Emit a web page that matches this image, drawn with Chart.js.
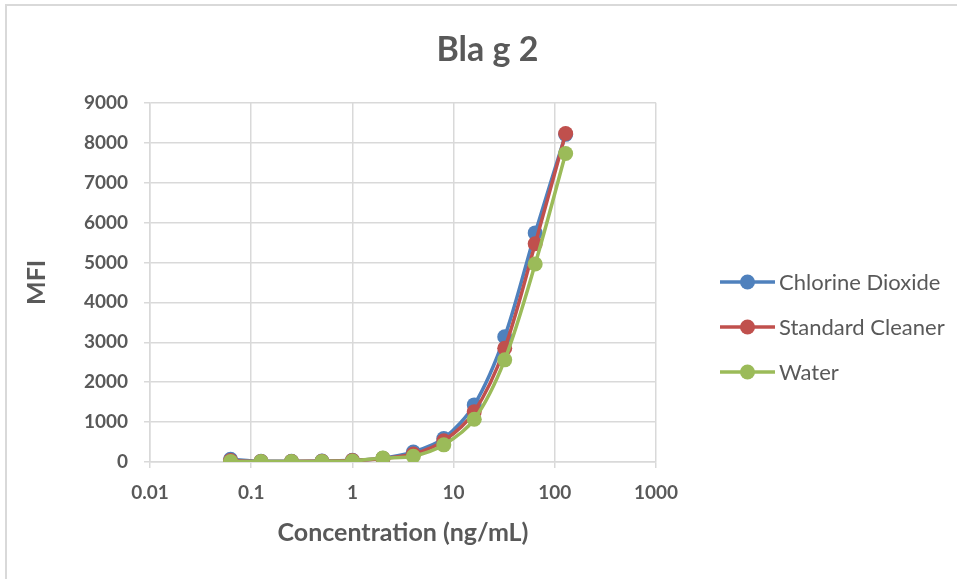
<!DOCTYPE html>
<html>
<head>
<meta charset="utf-8">
<script src="https://cdn.jsdelivr.net/npm/chart.js@4/dist/chart.umd.min.js"></script>
<style>
  body { margin: 0; background: #fff; overflow: hidden; }
  #wrap { position: relative; width: 957px; height: 579px; }
  #frame { position: absolute; left: 5px; top: 4px; width: 1000px; height: 1000px;
           border-left: 2px solid #d9d9d9; border-top: 2px solid #d9d9d9; }
  #chart { position: absolute; left: 0; top: 0; }
  #legend { position: absolute; left: 719px; top: 259px; font-family: Lato, sans-serif;
            font-size: 22px; color: #595959; }
  .item { height: 45px; display: flex; align-items: center; }
  .item canvas { margin-right: 3px; }
</style>
</head>
<body>
<div id="wrap">
  <div id="frame"></div>
  <canvas id="chart" width="957" height="579"></canvas>
  <div id="legend"></div>
</div>
<script>
const concentrations = [0.0625, 0.125, 0.25, 0.5, 1, 2, 4, 8, 16, 32, 64, 128];
const chlorineDioxide = [70, 20, 20, 25, 45, 95, 250, 590, 1430, 3140, 5740, 8210];
const standardCleaner = [35, 15, 15, 20, 40, 90, 200, 530, 1260, 2850, 5470, 8230];
const water = [10, 10, 10, 15, 25, 100, 145, 430, 1070, 2560, 4960, 7730];
const seriesNames = ['Chlorine Dioxide', 'Standard Cleaner', 'Water'];
const seriesColors = ['#4F81BD', '#C0504D', '#9BBB59'];
const xTicks = [0.01, 0.1, 1, 10, 100, 1000];

const seriesValues = [chlorineDioxide, standardCleaner, water];
const textColor = '#595959';
const gridColor = '#d9d9d9';

// later series are painted over earlier ones, as in the original
const datasets = seriesValues.map((vals, i) => ({
  label: seriesNames[i],
  data: concentrations.map((c, j) => ({ x: c, y: vals[j] })),
  borderColor: seriesColors[i],
  backgroundColor: seriesColors[i],
  borderWidth: 3.5,
  pointRadius: 7.5,
  pointHoverRadius: 7.5,
  pointBorderWidth: 0,
  tension: 0.3,
  order: seriesValues.length - i
}));

const ctx = document.getElementById('chart').getContext('2d');
const chart = new Chart(ctx, {
  type: 'line',
  data: { datasets: datasets },
  options: {
    responsive: false,
    animation: false,
    layout: { padding: { left: 18, right: 0, top: 0, bottom: 0 } },
    plugins: {
      legend: { display: false },
      tooltip: { enabled: false },
      title: {
        display: true,
        text: 'Bla g 2',
        color: textColor,
        font: { family: 'Lato', size: 34, weight: 'bold' },
        padding: { top: 30, bottom: 32 }
      }
    },
    scales: {
      x: {
        type: 'logarithmic',
        min: 0.01,
        max: 1000,
        afterBuildTicks: scale => { scale.ticks = xTicks.map(v => ({ value: v })); },
        afterFit: scale => { scale.height = 117; },
        ticks: {
          color: textColor,
          font: { family: 'Lato', size: 19, weight: 'bold' },
          maxRotation: 0,
          autoSkip: false,
          padding: 13,
          callback: v => String(v)
        },
        grid: { color: gridColor, lineWidth: 1.5, tickLength: 6 },
        border: { color: gridColor, width: 1.5 },
        title: {
          display: true,
          text: 'Concentration (ng/mL)',
          color: textColor,
          font: { family: 'Lato', size: 25, weight: 'bold' },
          padding: { top: 0, bottom: 31 }
        }
      },
      y: {
        min: 0,
        max: 9000,
        afterFit: scale => { scale.width = 132; },
        ticks: {
          stepSize: 1000,
          color: textColor,
          font: { family: 'Lato', size: 19, weight: 'bold' },
          padding: 16,
          callback: v => String(v)
        },
        grid: { color: gridColor, lineWidth: 1.5, tickLength: 6 },
        border: { color: gridColor, width: 1.5 },
        title: {
          display: true,
          text: 'MFI',
          color: textColor,
          font: { family: 'Lato', size: 25, weight: 'bold' },
          padding: { top: 4, bottom: 0 }
        }
      },
      // empty right-hand box that keeps room for the legend
      spacer: {
        position: 'right',
        afterFit: scale => { scale.width = 301; },
        ticks: { display: false },
        grid: { display: false, drawTicks: false },
        border: { display: false }
      }
    }
  }
});

// legend built from the dataset names and colours
const legend = document.getElementById('legend');
seriesNames.forEach((name, i) => {
  const item = document.createElement('div');
  item.className = 'item';
  const c = document.createElement('canvas');
  c.width = 57; c.height = 20;
  const g = c.getContext('2d');
  g.strokeStyle = seriesColors[i];
  g.lineWidth = 3.5;
  g.beginPath(); g.moveTo(1, 10); g.lineTo(56, 10); g.stroke();
  g.fillStyle = seriesColors[i];
  g.beginPath(); g.arc(28.5, 10, 7.5, 0, Math.PI * 2); g.fill();
  item.appendChild(c);
  const span = document.createElement('span');
  span.textContent = name;
  item.appendChild(span);
  legend.appendChild(item);
});
</script>
</body>
</html>
